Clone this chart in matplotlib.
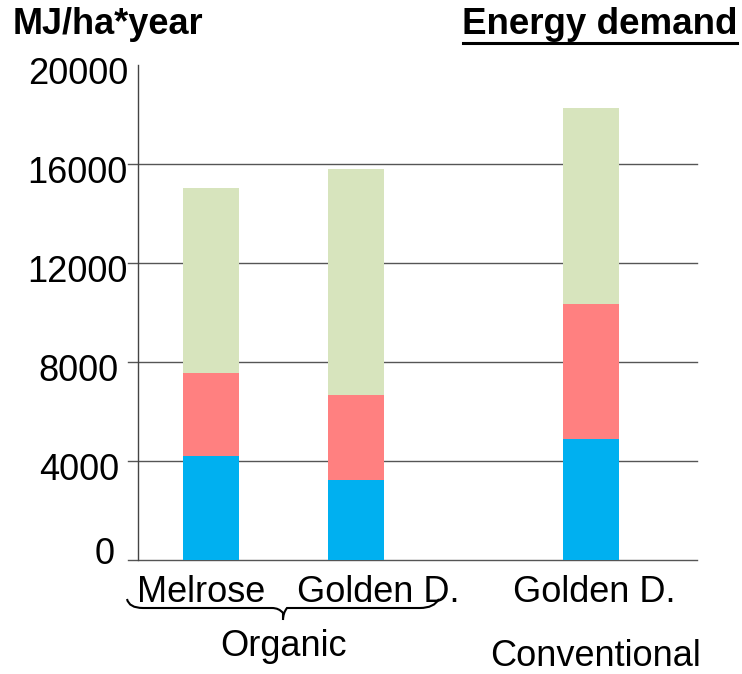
import matplotlib
matplotlib.use("Agg")
import matplotlib.pyplot as plt
from matplotlib.path import Path
from matplotlib.patches import PathPatch
from matplotlib.transforms import Affine2D, offset_copy

plt.rcParams["font.family"] = ["Liberation Sans", "DejaVu Sans"]

# data (MJ/ha*year), stacked bottom -> top
positions = [0, 1, 2.62]
bar_labels = ["Melrose", "Golden D.", "Golden D."]
blue_part = [4200, 3250, 4900]
red_part = [3350, 3400, 5450]
green_part = [7500, 9150, 7900]
yticks = [0, 4000, 8000, 12000, 16000, 20000]
group_labels = ["Organic", "Conventional"]

colors = ["#00B0F0", "#FF8080", "#D7E4BD"]

W, H = 742, 674
fig = plt.figure(figsize=(W / 100, H / 100), dpi=100)
ax = fig.add_axes([138 / W, 1 - 560 / H, 559 / W, 495 / H])

bottom = [0, 0, 0]
for part, c in zip([blue_part, red_part, green_part], colors):
    ax.bar(positions, part, width=0.386, bottom=bottom, color=c, zorder=3)
    bottom = [b + p for b, p in zip(bottom, part)]

ax.set_xlim(-0.503, 3.352)
ax.set_ylim(0, 20000)
for s in ["top", "right", "bottom"]:
    ax.spines[s].set_visible(False)
ax.spines["left"].set_color("#444444")
ax.spines["left"].set_linewidth(1.0)
ax.set_xticks([])
ax.set_yticks([])

# gridlines with a small tick stub left of the axis
ytr = ax.get_yaxis_transform()
for y in yticks[:-1]:
    ax.plot([-10 / 559, 1], [y, y], color="#555555", lw=1.0, transform=ytr,
            clip_on=False, zorder=2)

# y tick labels
for y in yticks:
    lab = str(y)
    dx = {5: -10, 4: -19, 1: -23}[len(lab)]
    dy = 6 if y == 0 else -9.5
    tr = offset_copy(ytr, fig=fig, x=dx, y=dy, units="dots")
    ax.text(0, y, lab, transform=tr, ha="right", va="center", fontsize=26)

# pixel coordinates from the top-left corner
px = Affine2D().scale(1 / W, -1 / H).translate(0, 1) + fig.transFigure

# category labels
for x, lab in zip([201.5, 378.5, 594.5], bar_labels):
    fig.text(x, 593, lab, transform=px, ha="center", va="center", fontsize=26)
fig.text(283, 647, group_labels[0], transform=px, ha="center", va="center", fontsize=26)
fig.text(596, 656, group_labels[1], transform=px, ha="center", va="center", fontsize=26)

# curly brace under the organic group
verts = [(127, 599), (129, 608), (143, 608), (150, 608),
         (272, 608), (279, 608), (283, 613), (283, 620),
         (283, 613), (287, 608), (294, 608),
         (420, 608), (434, 608), (439, 599)]
codes = [Path.MOVETO, Path.CURVE3, Path.CURVE3, Path.LINETO,
         Path.LINETO, Path.CURVE3, Path.CURVE3, Path.LINETO,
         Path.CURVE3, Path.CURVE3, Path.LINETO,
         Path.LINETO, Path.CURVE3, Path.CURVE3]
fig.add_artist(PathPatch(Path(verts, codes), transform=px, fill=False,
                         edgecolor="black", lw=1.5))

# titles
fig.text(13, 25, "MJ/ha*year", transform=px, ha="left", va="center",
         fontsize=26, fontweight="bold")
fig.text(737, 25, "Energy demand", transform=px, ha="right", va="center",
         fontsize=26.5, fontweight="bold")
fig.add_artist(plt.Line2D([463, 737], [43, 43], transform=px, color="black", lw=2.2))

fig.savefig("out.png", dpi=100)
